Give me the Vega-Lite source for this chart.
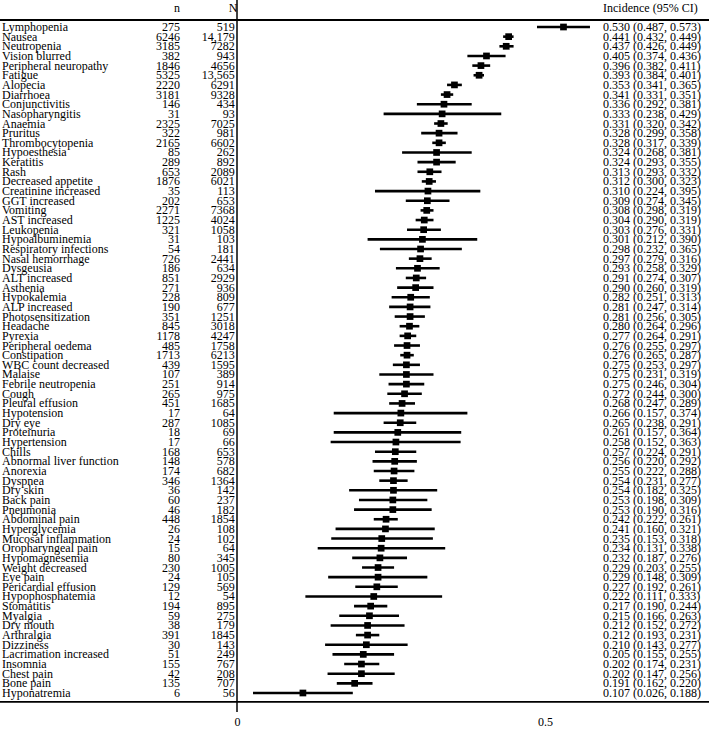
{
  "$schema": "https://vega.github.io/schema/vega-lite/v6.json",
  "width": 709,
  "height": 729,
  "padding": 0,
  "autosize": {"type": "none"},
  "background": "white",
  "config": {"view": {"stroke": null}, "font": "Liberation Serif"},
  "datasets": {
    "ae": [
      {"ae": "Lymphopenia", "n": 275, "N": 519, "est": 0.530, "lo": 0.487, "hi": 0.573},
      {"ae": "Nausea", "n": 6246, "N": 14179, "est": 0.441, "lo": 0.432, "hi": 0.449},
      {"ae": "Neutropenia", "n": 3185, "N": 7282, "est": 0.437, "lo": 0.426, "hi": 0.449},
      {"ae": "Vision blurred", "n": 382, "N": 943, "est": 0.405, "lo": 0.374, "hi": 0.436},
      {"ae": "Peripheral neuropathy", "n": 1846, "N": 4656, "est": 0.396, "lo": 0.382, "hi": 0.411},
      {"ae": "Fatigue", "n": 5325, "N": 13565, "est": 0.393, "lo": 0.384, "hi": 0.401},
      {"ae": "Alopecia", "n": 2220, "N": 6291, "est": 0.353, "lo": 0.341, "hi": 0.365},
      {"ae": "Diarrhoea", "n": 3181, "N": 9328, "est": 0.341, "lo": 0.331, "hi": 0.351},
      {"ae": "Conjunctivitis", "n": 146, "N": 434, "est": 0.336, "lo": 0.292, "hi": 0.381},
      {"ae": "Nasopharyngitis", "n": 31, "N": 93, "est": 0.333, "lo": 0.238, "hi": 0.429},
      {"ae": "Anaemia", "n": 2325, "N": 7025, "est": 0.331, "lo": 0.320, "hi": 0.342},
      {"ae": "Pruritus", "n": 322, "N": 981, "est": 0.328, "lo": 0.299, "hi": 0.358},
      {"ae": "Thrombocytopenia", "n": 2165, "N": 6602, "est": 0.328, "lo": 0.317, "hi": 0.339},
      {"ae": "Hypoesthesia", "n": 85, "N": 262, "est": 0.324, "lo": 0.268, "hi": 0.381},
      {"ae": "Keratitis", "n": 289, "N": 892, "est": 0.324, "lo": 0.293, "hi": 0.355},
      {"ae": "Rash", "n": 653, "N": 2089, "est": 0.313, "lo": 0.293, "hi": 0.332},
      {"ae": "Decreased appetite", "n": 1876, "N": 6021, "est": 0.312, "lo": 0.300, "hi": 0.323},
      {"ae": "Creatinine increased", "n": 35, "N": 113, "est": 0.310, "lo": 0.224, "hi": 0.395},
      {"ae": "GGT increased", "n": 202, "N": 653, "est": 0.309, "lo": 0.274, "hi": 0.345},
      {"ae": "Vomiting", "n": 2271, "N": 7368, "est": 0.308, "lo": 0.298, "hi": 0.319},
      {"ae": "AST increased", "n": 1225, "N": 4024, "est": 0.304, "lo": 0.290, "hi": 0.319},
      {"ae": "Leukopenia", "n": 321, "N": 1058, "est": 0.303, "lo": 0.276, "hi": 0.331},
      {"ae": "Hypoalbuminemia", "n": 31, "N": 103, "est": 0.301, "lo": 0.212, "hi": 0.390},
      {"ae": "Respiratory infections", "n": 54, "N": 181, "est": 0.298, "lo": 0.232, "hi": 0.365},
      {"ae": "Nasal hemorrhage", "n": 726, "N": 2441, "est": 0.297, "lo": 0.279, "hi": 0.316},
      {"ae": "Dysgeusia", "n": 186, "N": 634, "est": 0.293, "lo": 0.258, "hi": 0.329},
      {"ae": "ALT increased", "n": 851, "N": 2929, "est": 0.291, "lo": 0.274, "hi": 0.307},
      {"ae": "Asthenia", "n": 271, "N": 936, "est": 0.290, "lo": 0.260, "hi": 0.319},
      {"ae": "Hypokalemia", "n": 228, "N": 809, "est": 0.282, "lo": 0.251, "hi": 0.313},
      {"ae": "ALP increased", "n": 190, "N": 677, "est": 0.281, "lo": 0.247, "hi": 0.314},
      {"ae": "Photosensitization", "n": 351, "N": 1251, "est": 0.281, "lo": 0.256, "hi": 0.305},
      {"ae": "Headache", "n": 845, "N": 3018, "est": 0.280, "lo": 0.264, "hi": 0.296},
      {"ae": "Pyrexia", "n": 1178, "N": 4247, "est": 0.277, "lo": 0.264, "hi": 0.291},
      {"ae": "Peripheral oedema", "n": 485, "N": 1758, "est": 0.276, "lo": 0.255, "hi": 0.297},
      {"ae": "Constipation", "n": 1713, "N": 6213, "est": 0.276, "lo": 0.265, "hi": 0.287},
      {"ae": "WBC count decreased", "n": 439, "N": 1595, "est": 0.275, "lo": 0.253, "hi": 0.297},
      {"ae": "Malaise", "n": 107, "N": 389, "est": 0.275, "lo": 0.231, "hi": 0.319},
      {"ae": "Febrile neutropenia", "n": 251, "N": 914, "est": 0.275, "lo": 0.246, "hi": 0.304},
      {"ae": "Cough", "n": 265, "N": 975, "est": 0.272, "lo": 0.244, "hi": 0.300},
      {"ae": "Pleural effusion", "n": 451, "N": 1685, "est": 0.268, "lo": 0.247, "hi": 0.289},
      {"ae": "Hypotension", "n": 17, "N": 64, "est": 0.266, "lo": 0.157, "hi": 0.374},
      {"ae": "Dry eye", "n": 287, "N": 1085, "est": 0.265, "lo": 0.238, "hi": 0.291},
      {"ae": "Proteinuria", "n": 18, "N": 69, "est": 0.261, "lo": 0.157, "hi": 0.364},
      {"ae": "Hypertension", "n": 17, "N": 66, "est": 0.258, "lo": 0.152, "hi": 0.363},
      {"ae": "Chills", "n": 168, "N": 653, "est": 0.257, "lo": 0.224, "hi": 0.291},
      {"ae": "Abnormal liver function", "n": 148, "N": 578, "est": 0.256, "lo": 0.220, "hi": 0.292},
      {"ae": "Anorexia", "n": 174, "N": 682, "est": 0.255, "lo": 0.222, "hi": 0.288},
      {"ae": "Dyspnea", "n": 346, "N": 1364, "est": 0.254, "lo": 0.231, "hi": 0.277},
      {"ae": "Dry skin", "n": 36, "N": 142, "est": 0.254, "lo": 0.182, "hi": 0.325},
      {"ae": "Back pain", "n": 60, "N": 237, "est": 0.253, "lo": 0.198, "hi": 0.309},
      {"ae": "Pneumonia", "n": 46, "N": 182, "est": 0.253, "lo": 0.190, "hi": 0.316},
      {"ae": "Abdominal pain", "n": 448, "N": 1854, "est": 0.242, "lo": 0.222, "hi": 0.261},
      {"ae": "Hyperglycemia", "n": 26, "N": 108, "est": 0.241, "lo": 0.160, "hi": 0.321},
      {"ae": "Mucosal inflammation", "n": 24, "N": 102, "est": 0.235, "lo": 0.153, "hi": 0.318},
      {"ae": "Oropharyngeal pain", "n": 15, "N": 64, "est": 0.234, "lo": 0.131, "hi": 0.338},
      {"ae": "Hypomagnesemia", "n": 80, "N": 345, "est": 0.232, "lo": 0.187, "hi": 0.276},
      {"ae": "Weight decreased", "n": 230, "N": 1005, "est": 0.229, "lo": 0.203, "hi": 0.255},
      {"ae": "Eye pain", "n": 24, "N": 105, "est": 0.229, "lo": 0.148, "hi": 0.309},
      {"ae": "Pericardial effusion", "n": 129, "N": 569, "est": 0.227, "lo": 0.192, "hi": 0.261},
      {"ae": "Hypophosphatemia", "n": 12, "N": 54, "est": 0.222, "lo": 0.111, "hi": 0.333},
      {"ae": "Stomatitis", "n": 194, "N": 895, "est": 0.217, "lo": 0.190, "hi": 0.244},
      {"ae": "Myalgia", "n": 59, "N": 275, "est": 0.215, "lo": 0.166, "hi": 0.263},
      {"ae": "Dry mouth", "n": 38, "N": 179, "est": 0.212, "lo": 0.152, "hi": 0.272},
      {"ae": "Arthralgia", "n": 391, "N": 1845, "est": 0.212, "lo": 0.193, "hi": 0.231},
      {"ae": "Dizziness", "n": 30, "N": 143, "est": 0.210, "lo": 0.143, "hi": 0.277},
      {"ae": "Lacrimation increased", "n": 51, "N": 249, "est": 0.205, "lo": 0.155, "hi": 0.255},
      {"ae": "Insomnia", "n": 155, "N": 767, "est": 0.202, "lo": 0.174, "hi": 0.231},
      {"ae": "Chest pain", "n": 42, "N": 208, "est": 0.202, "lo": 0.147, "hi": 0.256},
      {"ae": "Bone pain", "n": 135, "N": 707, "est": 0.191, "lo": 0.162, "hi": 0.220},
      {"ae": "Hyponatremia", "n": 6, "N": 56, "est": 0.107, "lo": 0.026, "hi": 0.188}
    ]
  },
  "layer": [
    {
      "data": {"values": [{}]},
      "mark": {"type": "rule", "color": "black", "strokeWidth": 1.5},
      "encoding": {
        "x": {"datum": 0, "type": "quantitative",
          "scale": {"domain": [-0.38474, 0.76623], "nice": false, "zero": false},
          "axis": {"values": [0, 0.5], "format": "~g", "title": null, "grid": false, "domain": false, "ticks": false, "tickSize": 0, "labelPadding": 0, "offset": -13, "labelFont": "Liberation Serif", "labelFontSize": 12, "labelColor": "black"}},
        "y": {"datum": -1.8, "type": "quantitative",
          "scale": {"domain": [-1.797, 73.73], "reverse": true, "nice": false, "zero": false}, "axis": null},
        "y2": {"datum": 71.97}
      }
    },
    {
      "data": {"values": [{"p": 0.275, "w": 1.5}, {"p": 70.93, "w": 2}]},
      "mark": {"type": "rule", "color": "black", "strokeWidth": 1.8},
      "encoding": {
        "y": {"field": "p", "type": "quantitative"}
      }
    },
    {
      "data": {"values": [
        {"h": "n", "xp": -0.09253, "al": "right"},
        {"h": "N", "xp": 0.0005, "al": "right"},
        {"h": "Incidence (95% CI)", "xp": 0.5942, "al": "left"}
      ]},
      "layer": [
        {
          "transform": [{"filter": "datum.al == 'right'"}],
          "mark": {"type": "text", "align": "right", "baseline": "middle", "fontSize": 12, "font": "Liberation Serif", "color": "black"},
          "encoding": {
            "x": {"field": "xp", "type": "quantitative"},
            "y": {"datum": -0.97, "type": "quantitative"},
            "text": {"field": "h"}
          }
        },
        {
          "transform": [{"filter": "datum.al == 'left'"}],
          "mark": {"type": "text", "align": "left", "baseline": "middle", "fontSize": 12, "font": "Liberation Serif", "color": "black"},
          "encoding": {
            "x": {"field": "xp", "type": "quantitative"},
            "y": {"datum": -0.97, "type": "quantitative"},
            "text": {"field": "h"}
          }
        }
      ]
    },
    {
      "data": {"name": "ae"},
      "transform": [
        {"window": [{"op": "row_number", "as": "row"}]},
        {"calculate": "datum.N >= 10000 ? format(datum.N, ',') : format(datum.N, 'd')", "as": "Nlab"},
        {"calculate": "format(datum.est, '.3f') + ' (' + format(datum.lo, '.3f') + ', ' + format(datum.hi, '.3f') + ')'", "as": "cilab"}
      ],
      "layer": [
        {
          "mark": {"type": "rule", "color": "black", "strokeWidth": 2.6},
          "encoding": {
            "x": {"field": "lo", "type": "quantitative"},
            "x2": {"field": "hi"},
            "y": {"field": "row", "type": "quantitative"}
          }
        },
        {
          "mark": {"type": "point", "shape": "square", "filled": true, "color": "black", "opacity": 1, "size": 45},
          "encoding": {
            "x": {"field": "est", "type": "quantitative"},
            "y": {"field": "row", "type": "quantitative"}
          }
        },
        {
          "mark": {"type": "text", "align": "left", "baseline": "middle", "fontSize": 12, "font": "Liberation Serif", "color": "black"},
          "encoding": {
            "x": {"datum": -0.3815, "type": "quantitative"},
            "y": {"field": "row", "type": "quantitative"},
            "text": {"field": "ae"}
          }
        },
        {
          "mark": {"type": "text", "align": "right", "baseline": "middle", "fontSize": 12, "font": "Liberation Serif", "color": "black"},
          "encoding": {
            "x": {"datum": -0.09253, "type": "quantitative"},
            "y": {"field": "row", "type": "quantitative"},
            "text": {"field": "n"}
          }
        },
        {
          "mark": {"type": "text", "align": "right", "baseline": "middle", "fontSize": 12, "font": "Liberation Serif", "color": "black"},
          "encoding": {
            "x": {"datum": -0.0035, "type": "quantitative"},
            "y": {"field": "row", "type": "quantitative"},
            "text": {"field": "Nlab"}
          }
        },
        {
          "mark": {"type": "text", "align": "left", "baseline": "middle", "fontSize": 12, "font": "Liberation Serif", "color": "black"},
          "encoding": {
            "x": {"datum": 0.5942, "type": "quantitative"},
            "y": {"field": "row", "type": "quantitative"},
            "text": {"field": "cilab"}
          }
        }
      ]
    }
  ]
}
